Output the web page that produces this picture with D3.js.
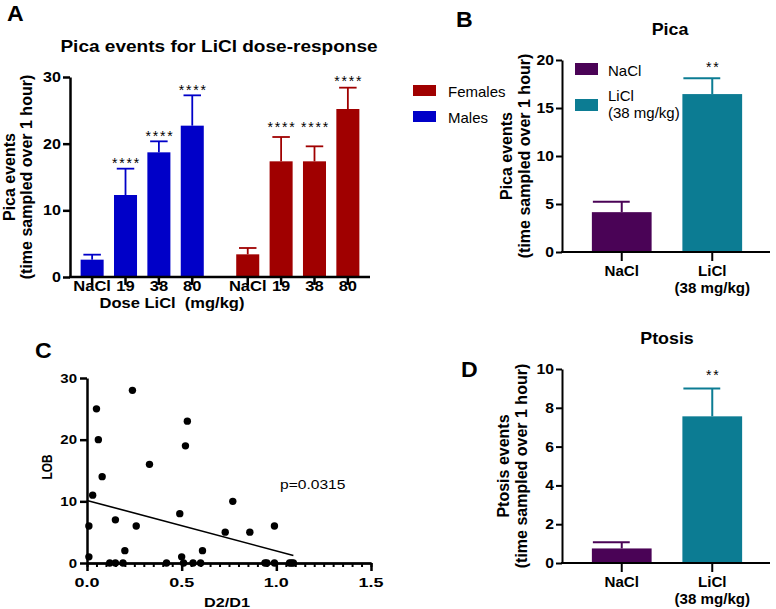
<!DOCTYPE html>
<html><head><meta charset="utf-8">
<script src="https://cdn.jsdelivr.net/npm/d3@7"></script>
<style>html,body{margin:0;padding:0;background:#fff;}</style>
</head><body>
<svg id="fig" width="776" height="609"></svg>
<script>
// ---------------- DATA ----------------
const doseLabels = ["NaCl", "19", "38", "80"];
const sexGroups = ["Males", "Females"];
const maleMeans = [2.6, 12.3, 18.7, 22.7];
const maleSEM = [0.75, 3.95, 1.65, 4.55];
const femaleMeans = [3.4, 17.35, 17.35, 25.2];
const femaleSEM = [0.95, 3.65, 2.25, 3.2];
const maleStars = ["", "****", "****", "****"];
const femaleStars = ["", "****", "****", "****"];
const maleStarLevel = [null, 17.5, 21.6, 28.5];
const femaleStarLevel = [null, 23.0, 23.0, 29.8];
const yTicksA = [0, 10, 20, 30];

const treatGroups = ["NaCl", "LiCl"];
const treatLabels = [["NaCl"], ["LiCl", "(38 mg/kg)"]];
const picaMeans = [4.15, 16.45];
const picaSEM = [1.08, 1.65];
const picaStars = ["", "**"];
const picaStarLevel = [null, 19.6];
const yTicksB = [0, 5, 10, 15, 20];

const ptosisMeans = [0.75, 7.56];
const ptosisSEM = [0.32, 1.44];
const ptosisStars = ["", "**"];
const ptosisStarLevel = [null, 9.85];
const yTicksD = [0, 2, 4, 6, 8, 10];

const ratioD2D1 = [0.01, 0.01, 0.03, 0.05, 0.06, 0.08, 0.12, 0.15, 0.15, 0.19, 0.20, 0.24, 0.26, 0.33, 0.42, 0.49, 0.50, 0.51, 0.52, 0.53, 0.56, 0.60, 0.61, 0.73, 0.77, 0.86, 0.94, 0.95, 0.99, 0.99, 1.07, 1.08, 1.09];
const lobValues = [6, 1, 11, 25, 20, 14, 0, 0, 7, 0, 2, 28, 6, 16, 0, 8, 1, 0, 19, 23, 0, 0, 2, 5, 10, 5, 0, 0, 6, 0, 0, 0, 0];
const fitIntercept = 10.15;
const fitSlope = -8.2;
const fitXMax = 1.09;
const xTicksC = [0, 0.5, 1.0, 1.5];
const yTicksC = [0, 10, 20, 30];

const colMale = "#0000c8", colFemale = "#a00000";
const colNaCl = "#4a0356", colLiCl = "#0c7c93";
// --------------------------------------

const FONT = "'Liberation Sans', Arial, Helvetica, sans-serif";
const svg = d3.select("#fig");

function txt(g, x, y, s, o = {}) {
  let tr = `translate(${x},${y})`;
  if (o.rot) tr += ` rotate(${o.rot})`;
  if (o.sx && o.sx !== 1) tr += ` scale(${o.sx},1)`;
  const t = g.append("text")
    .attr("transform", tr)
    .attr("text-anchor", o.anchor || "middle")
    .attr("font-family", FONT)
    .attr("font-size", o.size || 14)
    .attr("font-weight", o.weight || "bold")
    .attr("fill", o.fill || "#000")
    .text(s);
  if (o.ls) t.attr("letter-spacing", o.ls);
  return t;
}
function styleAxis(g, w) {
  g.selectAll("path.domain").attr("stroke", "#000").attr("stroke-width", w);
  g.selectAll(".tick line").attr("stroke", "#000").attr("stroke-width", w);
  g.selectAll(".tick text").remove();
}

// ================= PANEL A =================
(function () {
  const g = svg.append("g");
  const y = d3.scaleLinear().domain([0, 30]).range([277, 77]);
  const xG = d3.scaleBand().domain(sexGroups).range([70, 370]).paddingInner(0.142).paddingOuter(0.035);
  const xD = d3.scaleBand().domain(doseLabels).range([0, xG.bandwidth()]).paddingInner(0.31).paddingOuter(0.155);
  const series = [
    { sex: "Males", means: maleMeans, sem: maleSEM, stars: maleStars, lvl: maleStarLevel, col: colMale },
    { sex: "Females", means: femaleMeans, sem: femaleSEM, stars: femaleStars, lvl: femaleStarLevel, col: colFemale }
  ];
  const centers = [];
  series.forEach(s => {
    doseLabels.forEach((d, i) => {
      const x0 = xG(s.sex) + xD(d), bw = xD.bandwidth(), cx = x0 + bw / 2;
      centers.push({ cx, label: d });
      g.append("rect").attr("x", x0).attr("y", y(s.means[i])).attr("width", bw)
        .attr("height", y(0) - y(s.means[i])).attr("fill", s.col);
      const top = y(s.means[i] + s.sem[i]);
      g.append("line").attr("x1", cx).attr("x2", cx).attr("y1", y(s.means[i])).attr("y2", top)
        .attr("stroke", s.col).attr("stroke-width", 1.8);
      g.append("line").attr("x1", cx - bw * 0.38).attr("x2", cx + bw * 0.38).attr("y1", top).attr("y2", top)
        .attr("stroke", s.col).attr("stroke-width", 1.8);
      if (s.stars[i]) txt(g, cx + 1, y(s.lvl[i]) + 8, s.stars[i], { size: 14, weight: "normal", ls: 1.8 });
    });
  });
  const ya = g.append("g").attr("transform", "translate(70,0)")
    .call(d3.axisLeft(y).tickValues(yTicksA).tickSize(7).tickSizeOuter(0));
  styleAxis(ya, 2.5);
  yTicksA.forEach(v => txt(g, 61, y(v) + 5, v, { anchor: "end", size: 14, sx: 1.15 }));
  g.append("line").attr("x1", 69).attr("x2", 370).attr("y1", 277).attr("y2", 277).attr("stroke", "#000").attr("stroke-width", 2.5);
  centers.forEach(c => {
    g.append("line").attr("x1", c.cx).attr("x2", c.cx).attr("y1", 277).attr("y2", 285).attr("stroke", "#000").attr("stroke-width", 2.5);
    txt(g, c.cx, 291, c.label, { size: 14, sx: 1.18 });
  });
  txt(g, 172, 308, "Dose LiCl  (mg/kg)", { size: 14, sx: 1.18 }).style("white-space", "pre");
  txt(g, 219, 52, "Pica events for LiCl dose-response", { size: 17, sx: 1.12 });
  txt(g, 7, 21, "A", { anchor: "start", size: 22, sx: 1.05 });
  txt(g, 15, 177, "Pica events", { rot: -90, size: 16 });
  txt(g, 32, 177, "(time sampled over 1 hour)", { rot: -90, size: 16 });
  // legend
  const leg = [{ name: "Females", col: colFemale }, { name: "Males", col: colMale }];
  leg.forEach((l, i) => {
    g.append("rect").attr("x", 413).attr("y", 85 + i * 26).attr("width", 23).attr("height", 11).attr("fill", l.col);
    txt(g, 448, 97 + i * 26, l.name, { anchor: "start", size: 15, weight: "normal" });
  });
})();

// ============ PANELS B & D ============
function twoBar(o) {
  const g = svg.append("g");
  const y = d3.scaleLinear().domain(o.domain).range(o.range);
  const x = d3.scaleBand().domain(treatGroups).range([562, 772]).paddingInner(0.34).paddingOuter(0.33);
  const cols = [colNaCl, colLiCl];
  treatGroups.forEach((t, i) => {
    const x0 = x(t), bw = x.bandwidth(), cx = x0 + bw / 2;
    g.append("rect").attr("x", x0).attr("y", y(o.means[i])).attr("width", bw)
      .attr("height", y(0) - y(o.means[i])).attr("fill", cols[i]);
    const top = y(o.means[i] + o.sem[i]);
    g.append("line").attr("x1", cx).attr("x2", cx).attr("y1", y(o.means[i])).attr("y2", top).attr("stroke", cols[i]).attr("stroke-width", 2);
    g.append("line").attr("x1", x0 + 1).attr("x2", cx + 8).attr("y1", top).attr("y2", top).attr("stroke", cols[i]).attr("stroke-width", 2);
    if (o.stars[i]) txt(g, cx + 1, y(o.lvl[i]) + 8, o.stars[i], { size: 14, weight: "normal", ls: 1.8 });
    g.append("line").attr("x1", cx).attr("x2", cx).attr("y1", o.range[0]).attr("y2", o.range[0] + 9).attr("stroke", "#000").attr("stroke-width", 2);
    treatLabels[i].forEach((s, k) => txt(g, cx, o.range[0] + 24 + k * 17, s, { size: 14, sx: 1.08 }));
  });
  const ya = g.append("g").attr("transform", "translate(562,0)")
    .call(d3.axisLeft(y).tickValues(o.ticks).tickSize(6).tickSizeOuter(0));
  styleAxis(ya, 2);
  o.ticks.forEach(v => txt(g, 554, y(v) + 5, v, { anchor: "end", size: 14, sx: 1.12 }));
  g.append("line").attr("x1", 561).attr("x2", 770).attr("y1", o.range[0]).attr("y2", o.range[0]).attr("stroke", "#000").attr("stroke-width", 2);
  txt(g, o.titleX, o.titleY, o.title, { size: 17, sx: 1.05 });
  txt(g, o.letterX, o.letterY, o.letter, { anchor: "start", size: 22, sx: 1.05 });
  const cy = (o.range[0] + o.range[1]) / 2;
  txt(g, o.labX, cy, o.ylabel, { rot: -90, size: 16 });
  txt(g, o.labX + 18, cy, "(time sampled over 1 hour)", { rot: -90, size: 16 });
  return g;
}
const gB = twoBar({ domain: [0, 20], range: [252, 60], means: picaMeans, sem: picaSEM, stars: picaStars, lvl: picaStarLevel,
  ticks: yTicksB, title: "Pica", titleX: 670, titleY: 35, letter: "B", letterX: 456, letterY: 27, ylabel: "Pica events", labX: 512 });
// legend B
[{ name: ["NaCl"], col: colNaCl }, { name: ["LiCl", "(38 mg/kg)"], col: colLiCl }].forEach((l, i) => {
  gB.append("rect").attr("x", 575).attr("y", 63 + i * 36).attr("width", 23).attr("height", 12).attr("fill", l.col);
  l.name.forEach((s, k) => txt(gB, 608, 76 + i * 25 + k * 17, s, { anchor: "start", size: 15, weight: "normal" }));
});
twoBar({ domain: [0, 10], range: [563, 369], means: ptosisMeans, sem: ptosisSEM, stars: ptosisStars, lvl: ptosisStarLevel,
  ticks: yTicksD, title: "Ptosis", titleX: 667, titleY: 344, letter: "D", letterX: 461, letterY: 377, ylabel: "Ptosis events", labX: 509 });

// ================= PANEL C =================
(function () {
  const g = svg.append("g");
  const x = d3.scaleLinear().domain([0, 1.5]).range([87, 371]);
  const y = d3.scaleLinear().domain([0, 30]).range([563, 378]);
  const ya = g.append("g").attr("transform", "translate(87,0)")
    .call(d3.axisLeft(y).tickValues(yTicksC).tickSize(7).tickSizeOuter(0));
  styleAxis(ya, 2.5);
  const xm = g.append("g").attr("transform", "translate(0,563)")
    .call(d3.axisBottom(x).tickValues(d3.range(0, 1.5001, 0.05)).tickSize(4).tickSizeOuter(0));
  styleAxis(xm, 2);
  const xa = g.append("g").attr("transform", "translate(0,563)")
    .call(d3.axisBottom(x).tickValues(xTicksC).tickSize(8).tickSizeOuter(0));
  styleAxis(xa, 2.5);
  yTicksC.forEach(v => txt(g, 77, y(v) + 4.5, v, { anchor: "end", size: 12, sx: 1.25 }));
  xTicksC.forEach(v => txt(g, x(v), 587, d3.format(".1f")(v), { size: 12, sx: 1.5 }));
  ratioD2D1.forEach((r, i) => g.append("circle").attr("cx", x(r)).attr("cy", y(lobValues[i])).attr("r", 3.7).attr("fill", "#000"));
  g.append("line").attr("x1", x(0)).attr("y1", y(fitIntercept)).attr("x2", x(fitXMax)).attr("y2", y(fitIntercept + fitSlope * fitXMax))
    .attr("stroke", "#000").attr("stroke-width", 1.6);
  txt(g, 280, 489, "p=0.0315", { anchor: "start", size: 12, weight: "normal", sx: 1.3 });
  txt(g, 227, 607, "D2/D1", { size: 13, sx: 1.25 });
  txt(g, 52, 467, "LOB", { rot: -90, size: 14, sx: 0.85 });
  txt(g, 35, 358, "C", { anchor: "start", size: 22, sx: 1.05 });
})();
</script>
</body></html>
